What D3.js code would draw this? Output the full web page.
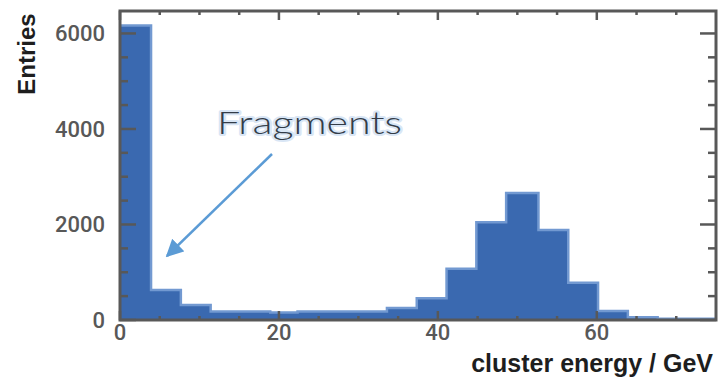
<!DOCTYPE html>
<html>
<head>
  <meta charset="utf-8">
  <script src="https://cdnjs.cloudflare.com/ajax/libs/d3/7.8.5/d3.min.js"></script>
  <title>cluster energy</title>
  <style>
    body { margin: 0; background: #fff; }
    svg { display: block; }
  </style>
</head>
<body>
<script>
// histogram: 20 bins of 3.75 GeV from 0 to 75
var binStart = [0, 3.75, 7.5, 11.25, 15, 18.75, 22.5, 26.25, 30, 33.75,
                37.5, 41.25, 45, 48.75, 52.5, 56.25, 60, 63.75, 67.5, 71.25];
var binWidth = 3.75;
var entries = [6140, 600, 290, 150, 150, 130, 150, 150, 150, 225,
               430, 1045, 2020, 2635, 1860, 755, 160, 30, 0, 0];
var xMajor = [0, 20, 40, 60];
var xMinor = [5, 10, 15, 25, 30, 35, 45, 50, 55, 65, 70];
var yMajor = [0, 2000, 4000, 6000];
var yMinor = [500, 1000, 1500, 2500, 3000, 3500, 4500, 5000, 5500];

var W = 718, H = 378;
var pL = 120, pR = 716, pT = 11, pB = 320;
var axisCol = "#585858";

var x = d3.scaleLinear().domain([0, 75]).range([pL, pR]);
var y = d3.scaleLinear().domain([0, 6470]).range([pB, pT]);

var svg = d3.select("body").append("svg")
  .attr("width", W).attr("height", H);

var defs = svg.append("defs");
defs.append("clipPath").attr("id", "plot")
  .append("rect").attr("x", pL).attr("y", pT - 5)
  .attr("width", pR - pL).attr("height", pB - pT + 5);

// step outline points
var pts = [[0, 0]];
binStart.forEach(function(b, i) { pts.push([b, entries[i]]); });
pts.push([75, 0]);

var step = d3.line()
  .x(function(d) { return x(d[0]); })
  .y(function(d) { return y(d[1]); })
  .curve(d3.curveStepAfter);

var area = d3.area()
  .x(function(d) { return x(d[0]); })
  .y0(y(0))
  .y1(function(d) { return y(d[1]); })
  .curve(d3.curveStepAfter);

var g = svg.append("g").attr("clip-path", "url(#plot)");
g.append("path").datum(pts)
  .attr("d", step)
  .attr("fill", "none")
  .attr("stroke", "#7299d1")
  .attr("stroke-width", 5);
g.append("path").datum(pts)
  .attr("d", area)
  .attr("fill", "#3a69b0");

// ticks
var ticks = svg.append("g").attr("stroke", axisCol).attr("stroke-width", 2.5);
function hTick(v, len) {
  ticks.append("line").attr("x1", pL).attr("x2", pL + len)
    .attr("y1", y(v)).attr("y2", y(v));
  ticks.append("line").attr("x1", pR).attr("x2", pR - len)
    .attr("y1", y(v)).attr("y2", y(v));
}
yMajor.forEach(function(v) { hTick(v, 16); });
yMinor.forEach(function(v) { hTick(v, 8); });
function vTick(v, len) {
  ticks.append("line").attr("x1", x(v)).attr("x2", x(v))
    .attr("y1", pB).attr("y2", pB - len);
  ticks.append("line").attr("x1", x(v)).attr("x2", x(v))
    .attr("y1", pT).attr("y2", pT + len);
}
xMajor.forEach(function(v) { vTick(v, 9); });
xMinor.forEach(function(v) { vTick(v, 4); });

// frame
svg.append("rect")
  .attr("x", pL).attr("y", pT)
  .attr("width", pR - pL).attr("height", pB - pT)
  .attr("fill", "none").attr("stroke", axisCol).attr("stroke-width", 3);

// tick labels
svg.selectAll(".ylab").data(yMajor).enter().append("text")
  .attr("class", "ylab")
  .attr("x", 105).attr("y", function(d) { return y(d); })
  .attr("dy", "0.36em")
  .attr("text-anchor", "end")
  .attr("font-family", "Roboto, Liberation Sans, sans-serif")
  .attr("font-weight", 500)
  .attr("font-size", 22)
  .attr("fill", "#585858")
  .text(function(d) { return d; });

svg.selectAll(".xlab").data(xMajor).enter().append("text")
  .attr("class", "xlab")
  .attr("x", function(d) { return x(d); }).attr("y", 340)
  .attr("text-anchor", "middle")
  .attr("font-family", "Roboto, Liberation Sans, sans-serif")
  .attr("font-weight", 500)
  .attr("font-size", 22)
  .attr("fill", "#585858")
  .text(function(d) { return d; });

// axis titles
svg.append("text")
  .attr("transform", "translate(35,54) rotate(-90)")
  .attr("text-anchor", "middle")
  .attr("font-family", "Liberation Sans, Arial, sans-serif")
  .attr("font-weight", "bold")
  .attr("font-size", 24)
  .attr("fill", "#1e1e1e")
  .text("Entries");

svg.append("text")
  .attr("x", 713).attr("y", 372)
  .attr("text-anchor", "end")
  .attr("font-family", "Liberation Sans, Arial, sans-serif")
  .attr("font-weight", "bold")
  .attr("font-size", 25)
  .attr("fill", "#1e1e1e")
  .text("cluster energy / GeV");

// annotation
defs.append("marker")
  .attr("id", "head").attr("viewBox", "0 0 10 10")
  .attr("refX", 9).attr("refY", 5)
  .attr("markerWidth", 7).attr("markerHeight", 7)
  .attr("orient", "auto")
  .append("path").attr("d", "M0,0 L10,5 L0,10 Z").attr("fill", "#5b9bd5");

svg.append("line")
  .attr("x1", 272).attr("y1", 154)
  .attr("x2", 167).attr("y2", 256)
  .attr("stroke", "#5b9bd5").attr("stroke-width", 2.5)
  .attr("marker-end", "url(#head)");

// halo first, then the thin dark glyphs on top
var fragAttrs = function(t) {
  t.attr("x", 217).attr("y", 134)
    .attr("font-family", "Lato, sans-serif")
    .attr("font-weight", 300)
    .attr("font-size", 32)
    .attr("textLength", 185)
    .attr("lengthAdjust", "spacingAndGlyphs")
    .text("Fragments");
};
svg.append("text").call(fragAttrs)
  .attr("fill", "none")
  .attr("stroke", "#d9e6f5")
  .attr("stroke-width", 4)
  .attr("stroke-linejoin", "round");
svg.append("text").call(fragAttrs)
  .attr("fill", "#333c48");
</script>
</body>
</html>
